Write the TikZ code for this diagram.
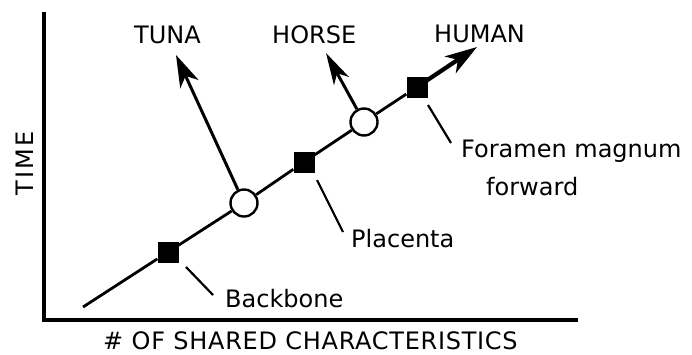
\documentclass[tikz,border=0pt]{standalone}
\usepackage{fontspec}
\setmainfont{DejaVu Sans}
\usetikzlibrary{arrows.meta}
\tikzset{
  lbl/.style={font=\fontsize{24}{28}\selectfont, inner sep=0pt},
  sqmark/.style={fill=black, draw=none, minimum size=21pt, inner sep=0pt},
  circmark/.style={circle, fill=white, draw=black, line width=2.4pt, minimum size=27pt, inner sep=0pt},
  bigtip/.style={-{Stealth[length=32pt, width=20pt, inset=9pt]}},
  branch/.style={line width=3pt, bigtip},
  leader/.style={line width=2.2pt},
  axis/.style={line width=3.2pt}
}
\begin{document}
\begin{tikzpicture}[x=1pt, y=-1pt]
\useasboundingbox (0,0) rectangle (692,354);
% axes
\coordinate (ytop) at (44,12);
\coordinate (origin) at (44,320);
\coordinate (xend) at (578,320);
\draw[axis] (ytop) -- (origin) -- (xend);
% main line points
\coordinate (start) at (83,307);
\coordinate (humantip) at (477,47);
\node[sqmark] (sq1) at (168,252) {};
\node[circmark] (c1) at (244,203) {};
\node[sqmark] (sq2) at (304,162) {};
\node[circmark] (c2) at (364,122) {};
\node[sqmark] (sq3) at (417,87) {};
% branches
\coordinate (tunatip) at (176,55);
\coordinate (horsetip) at (326,53);
\draw[line width=2.8pt] (start) -- (sq1) -- (c1) -- (sq2) -- (c2) -- (sq3);
\draw[line width=4.2pt, bigtip] (sq3.center) -- (humantip);
\draw[branch] (c1) -- (tunatip);
\draw[line width=3pt, -{Stealth[length=32pt, width=17pt, inset=9pt]}] (c2) -- (horsetip);
\node[sqmark] at (sq3) {};
% labels
\node[lbl, anchor=base west] (tuna) at (134,43) {TUNA};
\node[lbl, anchor=base west] (horse) at (272,43) {HORSE};
\node[lbl, anchor=base west] (human) at (434,42) {HUMAN};
\node[lbl, anchor=base west] (backbone) at (225,307) {Backbone};
\node[lbl, anchor=base west] (placenta) at (351,247) {Placenta};
\node[lbl, anchor=base west] (foramen) at (461,157) {Foramen magnum};
\node[lbl, anchor=base west] (forward) at (486,195) {forward};
\node[lbl, anchor=base west, rotate=90] (time) at (33,196) {\addfontfeature{LetterSpace=10}TIME};
\node[lbl, anchor=base west] (xlabel) at (103,349) {\addfontfeature{LetterSpace=3}\# OF SHARED CHARACTERISTICS};
% leaders
\coordinate (l1a) at (186,267); \coordinate (l1b) at (213,295);
\coordinate (l2a) at (317,180); \coordinate (l2b) at (343,232);
\coordinate (l3a) at (428,105); \coordinate (l3b) at (451,143);
\draw[leader] (l1a) -- (l1b);
\draw[leader] (l2a) -- (l2b);
\draw[leader] (l3a) -- (l3b);
\end{tikzpicture}
\end{document}
